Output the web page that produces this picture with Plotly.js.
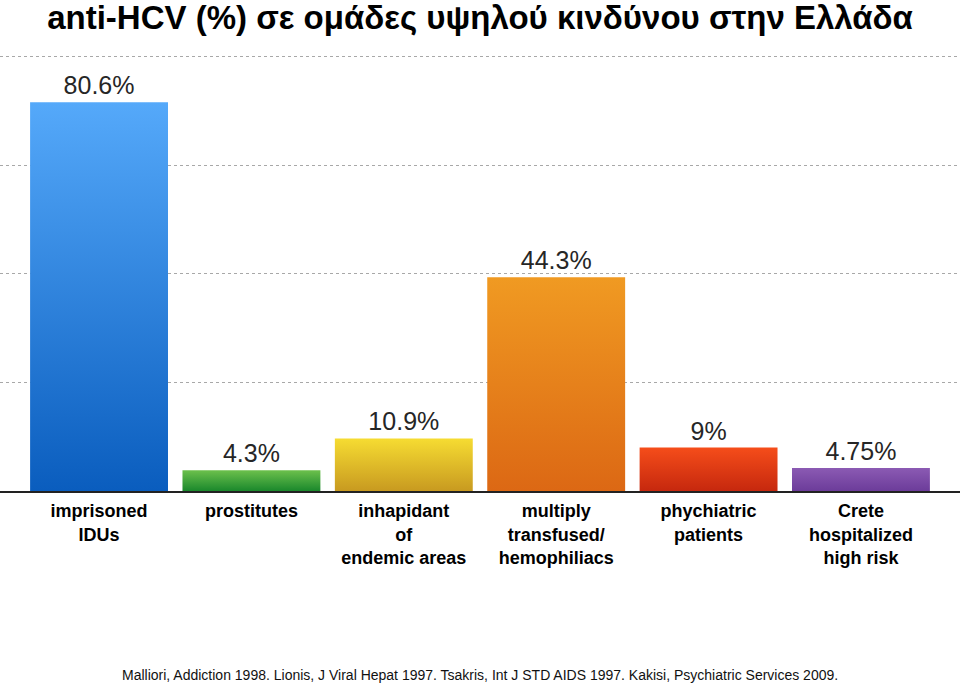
<!DOCTYPE html>
<html>
<head>
<meta charset="utf-8">
<script src="https://cdn.plot.ly/plotly-3.0.1.min.js"></script>
<style>html,body{margin:0;padding:0;background:#fff;}#chart{width:960px;height:683px;}</style>
</head>
<body>
<div id="chart"></div>
<script>
const categories = [
  'imprisoned<br>IDUs',
  'prostitutes',
  'inhapidant<br>of<br>endemic areas',
  'multiply<br>transfused/<br>hemophiliacs',
  'phychiatric<br>patients',
  'Crete<br>hospitalized<br>high risk'
];
const values = [80.6, 4.3, 10.9, 44.3, 9, 4.75];
const gridValues = [22.5, 45, 67.5, 90];
const chartTitle = 'anti-HCV (%) σε ομάδες υψηλού κινδύνου στην Ελλάδα';
const footnote = 'Malliori, Addiction 1998. Lionis, J Viral Hepat 1997. Tsakris, Int J STD AIDS 1997. Kakisi, Psychiatric Services 2009.';

const topColors = ['#55a9fa', '#6cc04c', '#f6dc32', '#f09a22', '#f54d1a', '#8b5ab3'];
const bottomColors = ['#0a5dbe', '#1a882c', '#c89a20', '#dc6814', '#c6280e', '#6c3c9a'];

const trace = {
  type: 'bar',
  x: categories.map((c, i) => i),
  y: values,
  width: 0.905,
  marker: { color: topColors, line: { width: 0 } },
  texttemplate: '%{y}%',
  textposition: 'outside',
  cliponaxis: false,
  textfont: { family: 'Liberation Sans, Arial, sans-serif', size: 25, color: '#262626' },
  hoverinfo: 'none'
};

const layout = {
  width: 960, height: 683,
  margin: { l: 0, r: 0, t: 52, b: 192 },
  paper_bgcolor: '#fff', plot_bgcolor: '#fff',
  showlegend: false,
  title: {
    text: '<b>' + chartTitle + '</b>',
    font: { family: 'Liberation Sans, Arial, sans-serif', size: 33, color: '#000' },
    x: 0.5, xanchor: 'center', y: 0.974, yanchor: 'middle'
  },
  xaxis: {
    range: [-0.65, 5.65],
    tickmode: 'array',
    tickvals: categories.map((c, i) => i),
    ticktext: categories.map(c => '<b>' + c + '</b>'),
    tickfont: { family: 'Liberation Sans, Arial, sans-serif', size: 18, color: '#000' },
    showgrid: false, zeroline: false,
    showline: true, linecolor: '#222', linewidth: 1.5,
    ticks: '', ticklabelstandoff: 3,
    fixedrange: true
  },
  yaxis: {
    range: [0, 91],
    tickmode: 'array',
    tickvals: gridValues,
    showticklabels: false,
    showgrid: true, gridcolor: '#a8a8a8', gridwidth: 1, griddash: 'dot',
    zeroline: false, showline: false,
    fixedrange: true
  },
  annotations: [{
    text: footnote,
    xref: 'paper', yref: 'paper',
    x: 0.5, xanchor: 'center',
    y: -0.419, yanchor: 'middle',
    showarrow: false,
    font: { family: 'Liberation Sans, Arial, sans-serif', size: 14, color: '#111' }
  }]
};

Plotly.newPlot('chart', [trace], layout, { displayModeBar: false, staticPlot: true }).then(gd => {
  const svg = gd.querySelector('.main-svg');
  const ns = 'http://www.w3.org/2000/svg';
  let defs = svg.querySelector('defs');
  if (!defs) { defs = document.createElementNS(ns, 'defs'); svg.insertBefore(defs, svg.firstChild); }
  topColors.forEach((tc, i) => {
    const g = document.createElementNS(ns, 'linearGradient');
    g.setAttribute('id', 'barGrad' + i);
    g.setAttribute('x1', '0'); g.setAttribute('y1', '0');
    g.setAttribute('x2', '0'); g.setAttribute('y2', '1');
    const s1 = document.createElementNS(ns, 'stop');
    s1.setAttribute('offset', '0'); s1.setAttribute('stop-color', tc);
    const s2 = document.createElementNS(ns, 'stop');
    s2.setAttribute('offset', '1'); s2.setAttribute('stop-color', bottomColors[i]);
    g.appendChild(s1); g.appendChild(s2);
    defs.appendChild(g);
  });
  gd.querySelectorAll('.trace.bars .point path').forEach((p, i) => {
    p.style.fill = 'url(#barGrad' + i + ')';
  });
});
</script>
</body>
</html>
